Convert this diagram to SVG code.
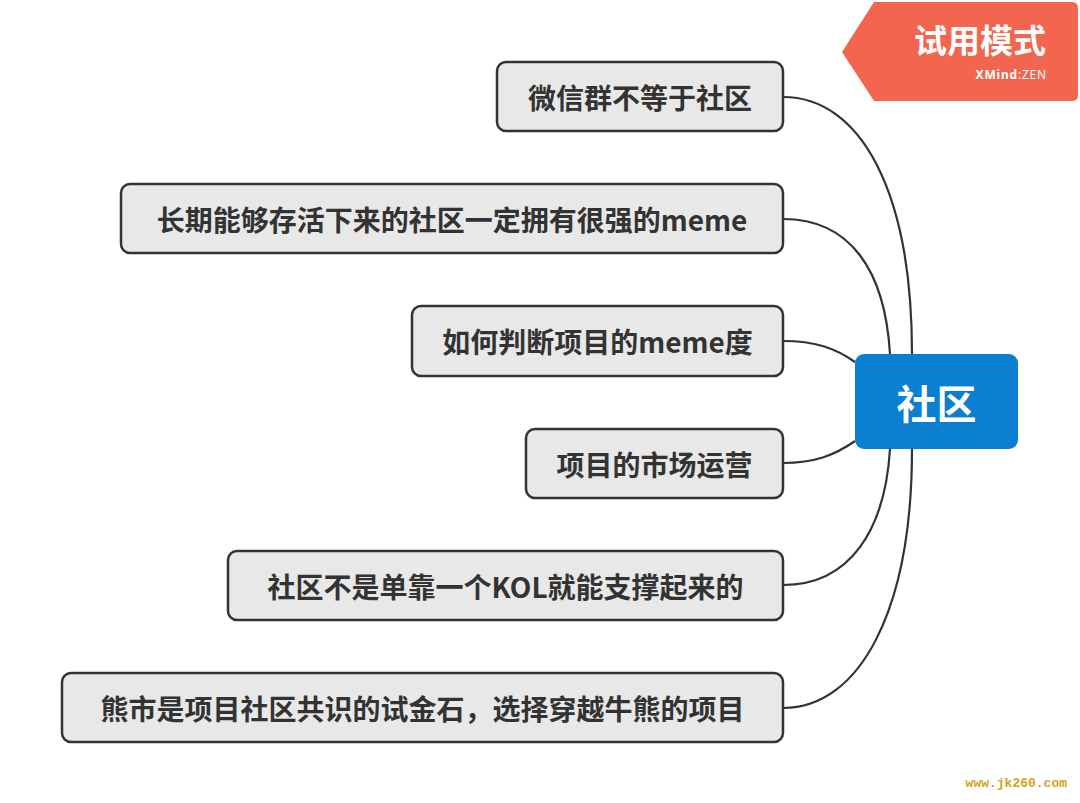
<svg xmlns="http://www.w3.org/2000/svg" width="1080" height="803" viewBox="0 0 1080 803">
<style>
.node rect{fill:#e8e8e8;stroke:#333;stroke-width:2.5}
.node text{font-family:"Noto Sans CJK SC","Noto Sans",sans-serif;font-weight:bold;font-size:28px;fill:#333;text-anchor:middle;dominant-baseline:central}
.conn path{fill:none;stroke:#333;stroke-width:2.2}
</style>
<rect width="1080" height="803" fill="#fff"/>
<g id="tag">
<path d="M874,2 H1072 Q1078,2 1078,8 V95 Q1078,101 1072,101 H874 L842,52 Z" fill="#f2664f"/>
<text x="980" y="39" font-family="Noto Sans CJK SC,sans-serif" font-size="33" font-weight="bold" fill="#fff" text-anchor="middle" dominant-baseline="central">试用模式</text>
<text x="1047" y="74" font-family="Noto Sans,sans-serif" font-size="12" letter-spacing="0.8" fill="#fff" text-anchor="end" dominant-baseline="central"><tspan font-weight="bold">XMind</tspan>:ZEN</text>
</g>
<g class="conn" id="connectors">
<path d="M912,354 C912,190 860,97 783,97"/>
<path d="M890,354 C885,270 850,219 783,219"/>
<path d="M855,362 C835,348 815,341 783,341"/>
<path d="M855,441 C835,455 815,463 783,463"/>
<path d="M890,449 C885,530 850,585 783,585"/>
<path d="M912,449 C912,610 860,708 783,708"/>
</g>
<g id="center">
<rect x="855" y="354" width="163" height="95" rx="9" fill="#0a7fcf"/>
<text x="936.5" y="401.5" font-family="Noto Sans CJK SC,sans-serif" font-size="40" font-weight="bold" fill="#fff" text-anchor="middle" dominant-baseline="central">社区</text>
</g>
<g class="node" id="n1"><rect x="497" y="62" width="286" height="69" rx="9"/><text x="640" y="96.5">微信群不等于社区</text></g>
<g class="node" id="n2"><rect x="121" y="184" width="662" height="69" rx="9"/><text x="452" y="218.5">长期能够存活下来的社区一定拥有很强的meme</text></g>
<g class="node" id="n3"><rect x="412" y="306" width="371" height="70" rx="9"/><text x="597.5" y="341">如何判断项目的meme度</text></g>
<g class="node" id="n4"><rect x="526" y="429" width="257" height="69" rx="9"/><text x="654.5" y="463.5">项目的市场运营</text></g>
<g class="node" id="n5"><rect x="228" y="551" width="555" height="69" rx="9"/><text x="505.5" y="585.5">社区不是单靠一个KOL就能支撑起来的</text></g>
<g class="node" id="n6"><rect x="62" y="673" width="721" height="69" rx="9"/><text x="422.5" y="707.5">熊市是项目社区共识的试金石，选择穿越牛熊的项目</text></g>
<text x="1067" y="783" font-family="Liberation Mono,monospace" font-size="13" font-weight="bold" fill="#d4a020" text-anchor="end" dominant-baseline="central">www.jk260.com</text>
</svg>
